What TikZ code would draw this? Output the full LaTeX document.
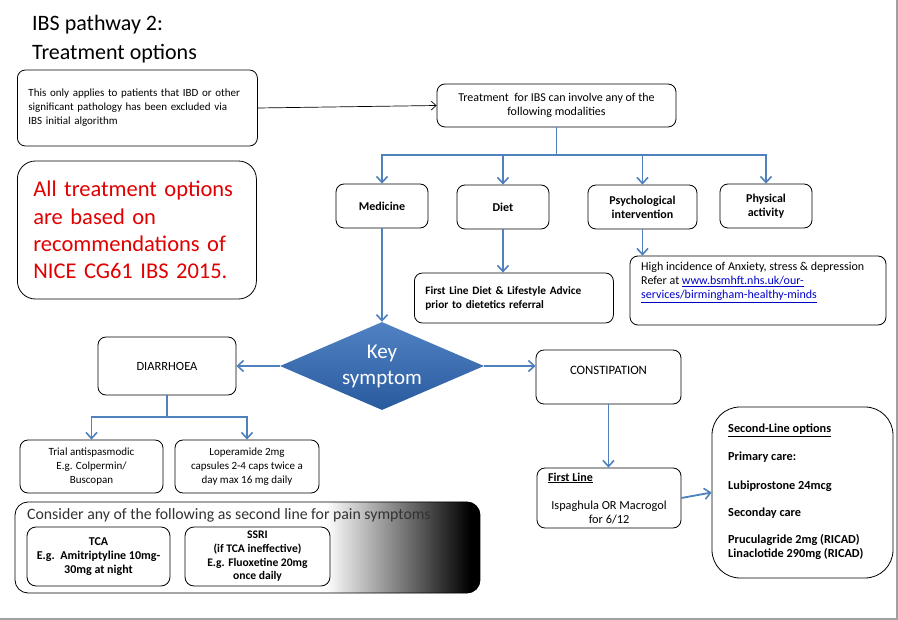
\documentclass[tikz,border=0pt]{standalone}
\usepackage{fontspec}
\setmainfont{Carlito}
\usetikzlibrary{arrows.meta,shapes.geometric}
\definecolor{lineblue}{RGB}{79,129,189}
\definecolor{keytop}{RGB}{80,130,195}
\definecolor{keybot}{RGB}{40,90,158}
\definecolor{redtext}{RGB}{225,0,0}
\definecolor{linkblue}{RGB}{0,0,200}
\definecolor{consgrey}{RGB}{50,50,50}
\tikzset{
  box/.style={draw=black, line width=0.8pt, rounded corners=8pt, fill=white, inner sep=0pt, align=center, font=\fontsize{11}{14}\selectfont},
  boldbox/.style={box, font=\fontsize{12}{14}\selectfont\bfseries},
  txt/.style={inner sep=0pt, font=\fontsize{11}{14}\selectfont},
  barrow/.style={draw=lineblue, line width=1.8pt, -{Straight Barb[length=6pt,width=11pt,line width=1.6pt]}},
  bline/.style={draw=lineblue, line width=1.8pt},
  karrow/.style={draw=black, line width=0.7pt, -{Straight Barb[length=5pt,width=9pt,line width=0.7pt]}},
}
\begin{document}
\begin{tikzpicture}[x=1pt,y=-1pt]
\useasboundingbox (0,0) rectangle (898,620);
\fill[white] (0,0) rectangle (898,620);
\draw[line width=2pt, color={rgb,255:red,160;green,160;blue,165}] (897,0) -- (897,618.5) -- (0,618.5);

% title
\node[inner sep=0pt, anchor=north west, align=left, font=\fontsize{22}{29}\selectfont] (title) at (32,15) {IBS pathway 2:\\Treatment options};

% top boxes
\node[box, minimum width=240pt, minimum height=76pt, align=left, anchor=west, text width=218pt, inner xsep=11pt, font=\fontsize{11}{14}\selectfont] (intro) at (17,108)
  {This only applies to patients that IBD or other\\significant pathology has been excluded via\\IBS initial algorithm};
\node[box, minimum width=239pt, minimum height=43pt, font=\fontsize{12}{14}\selectfont] (treat) at (556.5,105.5)
  {Treatment\ \ for IBS can involve any of the\\following modalities};

% red box
\node[box, rounded corners=18pt, minimum width=239pt, minimum height=138pt, anchor=west, text width=207pt, align=left, inner xsep=16pt,
  font=\fontsize{22.5}{27.3}\selectfont, text=redtext] (nice) at (17,230)
  {All treatment options\\are based on\\recommendations of\\NICE CG61 IBS 2015.};

% modalities
\node[boldbox, minimum width=92pt, minimum height=44pt] (med) at (382,206) {Medicine};
\node[boldbox, minimum width=92pt, minimum height=44pt] (diet) at (503,207) {Diet};
\node[boldbox, minimum width=109pt, minimum height=44pt] (psy) at (642.5,207) {Psychological\\intervention};
\node[boldbox, minimum width=92pt, minimum height=44pt] (phys) at (766,206) {Physical\\activity};

\node[boldbox, minimum width=199pt, minimum height=50pt, anchor=west, text width=177pt, align=left, inner xsep=11pt, font=\fontsize{11.3}{14}\selectfont\bfseries] (dietfl) at (414,298)
  {First Line Diet \& Lifestyle Advice\\prior to dietetics referral};
\node[box, minimum width=256pt, minimum height=69pt] (psybox) at (758,290.5) {};
\node[txt, anchor=north west, align=left, font=\fontsize{12}{14}\selectfont] (psytxt) at (641,262)
  {High incidence of Anxiety, stress \& depression\\Refer at \textcolor{linkblue}{\underline{www.bsmhft.nhs.uk/our-}}\\\textcolor{linkblue}{\underline{services/birmingham-healthy-minds}}};

% key symptom
\node[diamond, aspect=2.3, inner sep=0pt, minimum width=204pt, minimum height=88pt, top color=keytop, bottom color=keybot,
  draw=none, text=white, align=center, font=\fontsize{21}{26}\selectfont] (key) at (382,366) {Key\\symptom};

% diarrhoea branch
\node[box, minimum width=138pt, minimum height=58pt, font=\fontsize{12.5}{14}\selectfont] (diar) at (167,366) {DIARRHOEA};
\node[box, minimum width=143pt, minimum height=53pt] (trial) at (91.5,466.5) {Trial antispasmodic\\E.g. Colpermin/\\Buscopan};
\node[box, minimum width=144pt, minimum height=53pt] (lop) at (247,466.5) {Loperamide 2mg\\capsules 2-4 caps twice a\\day max 16 mg daily};

% second line pain
\begin{scope}
\clip[rounded corners=13pt] (15,502) rectangle (480,593);
\fill[white] (15,502) rectangle (326,593);
\shade[left color=white, right color=black] (325.5,502) rectangle (470.5,593);
\fill[black] (470,502) rectangle (480,593);
\end{scope}
\node[draw=black, line width=0.8pt, rounded corners=13pt, minimum width=465pt, minimum height=91pt, inner sep=0pt] (pain) at (247.5,547.5) {};
\node[txt, anchor=west, text=consgrey, font=\fontsize{15.8}{16}\selectfont] (paintxt) at (27,515)
  {Consider any of the following as second line for pain symptoms};
\node[boldbox, minimum width=143pt, minimum height=59pt, rounded corners=9pt] (tca) at (98.5,556.5)
  {TCA\\E.g.\ \ Amitriptyline 10mg-\\30mg at night};
\node[boldbox, minimum width=145pt, minimum height=59pt, rounded corners=9pt, font=\fontsize{11.6}{13.7}\selectfont\bfseries] (ssri) at (257.5,556.5)
  {SSRI\\(if TCA ineffective)\\E.g. Fluoxetine 20mg\\once daily};

% constipation branch
\node[box, minimum width=145pt, minimum height=54pt] (const) at (608.5,377) {};
\node[txt, font=\fontsize{12.8}{14}\selectfont] (consttxt) at (608.5,370) {CONSTIPATION};
\node[box, minimum width=144pt, minimum height=60pt] (fl) at (609,498) {};
\node[txt, anchor=west, font=\fontsize{12}{14}\selectfont\bfseries] (fltitle) at (548,478) {\underline{First Line}};
\node[txt, align=center, font=\fontsize{12.3}{14}\selectfont] (fltxt) at (609,512) {Ispaghula OR Macrogol\\for 6/12};
\node[box, rounded corners=28pt, minimum width=181pt, minimum height=171pt] (sl) at (802.5,492.5) {};
\node[txt, anchor=north west, align=left, font=\fontsize{12.3}{14}\selectfont\bfseries] (sltxt) at (728,424)
  {\underline{Second-Line options}\\[14pt]Primary care:\\[15pt]Lubiprostone 24mcg\\[13pt]Seconday care\\[13pt]Pruculagride 2mg (RICAD)\\Linaclotide 290mg (RICAD)};

% connectors
\draw[karrow] (intro.east) -- (treat.west);
\coordinate (hub) at (556.5,155);
\draw[bline] (treat.south) -- (hub);
\draw[barrow] (hub) -| (med.north);
\draw[barrow] (hub) -| (diet.north);
\draw[barrow] (hub) -| (psy.north);
\draw[barrow] (hub) -| (phys.north);
\draw[barrow] (med.south) -- (key.north);
\draw[barrow] (diet.south) -- (diet.south |- dietfl.north);
\draw[barrow] (psy.south) -- (psy.south |- psybox.north);
\draw[barrow] (key.west) -- (diar.east);
\draw[barrow] (key.east) -- (key.east -| const.west);
\coordinate (dhub) at (167,417);
\draw[bline] (diar.south) -- (dhub);
\draw[barrow] (dhub) -| (trial.north);
\draw[barrow] (dhub) -| (lop.north);
\draw[barrow] (const.south) -- (const.south |- fl.north);
\draw[barrow] (fl.east) -- (sl.west);
\end{tikzpicture}
\end{document}
